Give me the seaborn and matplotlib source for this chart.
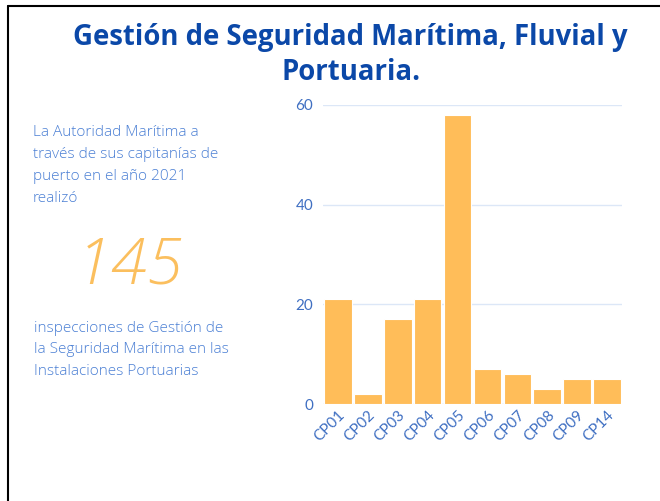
import matplotlib
matplotlib.use("Agg")
import matplotlib.pyplot as plt
import seaborn as sns
import pandas as pd

categories = ["CP01", "CP02", "CP03", "CP04", "CP05", "CP06", "CP07", "CP08", "CP09", "CP14"]
values = [21, 2, 17, 21, 58, 7, 6, 3, 5, 5]
yticks = [0, 20, 40, 60]
total_label = "145"

sns.set_theme(style="white")
plt.rcParams['font.family'] = ['Open Sans', 'DejaVu Sans']

df = pd.DataFrame({"cat": categories, "val": values})

fig = plt.figure(figsize=(6.6, 5.01), dpi=100)
W, H = 660, 501
ax = fig.add_axes([323 / W, 1 - 404 / H, (622 - 323) / W, (404 - 105) / H])

sns.barplot(data=df, x="cat", y="val", ax=ax, color="#ffbd59", saturation=1,
            width=0.92, edgecolor="white", linewidth=0.8)
ax.set_ylim(0, 60)
ax.set_xlim(-0.5, len(categories) - 0.5)
ax.set_yticks(yticks)
ax.set_xlabel("")
ax.set_ylabel("")
for s in ax.spines.values():
    s.set_visible(False)
ax.grid(axis="y", color="#dce7f7", linewidth=1)
ax.set_axisbelow(True)
ax.axhline(0, color="#dce7f7", linewidth=1, zorder=0)
ax.tick_params(axis="y", colors="#3f6fc2", labelsize=11, length=0, pad=7)
ax.tick_params(axis="x", colors="#3f6fc2", labelsize=11, length=0, pad=3)
for lab in ax.get_yticklabels():
    lab.set_family(['Lato', 'DejaVu Sans'])
for lab in ax.get_xticklabels():
    lab.set_rotation(45)
    lab.set_ha("right")
    lab.set_rotation_mode("anchor")
    lab.set_family(['Lato', 'DejaVu Sans'])

blue = "#4a7fd4"
fig.text(350 / W, 1 - 37 / H, "Gestión de Seguridad Marítima, Fluvial y", ha="center", va="center",
         fontsize=19.8, fontweight="bold", color="#0b48a8")
fig.text(351 / W, 1 - 72 / H, "Portuaria.", ha="center", va="center",
         fontsize=19.8, fontweight="bold", color="#0b48a8")

left_top = ["La Autoridad Marítima a", "través de sus capitanías de", "puerto en el año 2021", "realizó"]
for i, t in enumerate(left_top):
    fig.text(33 / W, 1 - (133 + i * 21.7) / H, t, ha="left", va="center", fontsize=11.1,
             color=blue, fontweight="light")

fig.text(130 / W, 1 - 267 / H, total_label, ha="center", va="center", fontsize=47,
         color="#fbbf5e", style="italic", fontweight="light")

left_bot = ["inspecciones de Gestión de", "la Seguridad Marítima en las", "Instalaciones Portuarias"]
for i, t in enumerate(left_bot):
    fig.text(34 / W, 1 - (328 + i * 21.7) / H, t, ha="left", va="center", fontsize=11.1,
             color=blue, fontweight="light")

# frame
fig.add_artist(plt.Line2D([8 / W, 1], [1 - 5.5 / H, 1 - 5.5 / H], color="black", linewidth=1.5,
                          transform=fig.transFigure))
fig.add_artist(plt.Line2D([8 / W, 8 / W], [1 - 5.5 / H, 0], color="black", linewidth=1.5,
                          transform=fig.transFigure))

fig.savefig("out.png", dpi=100)
